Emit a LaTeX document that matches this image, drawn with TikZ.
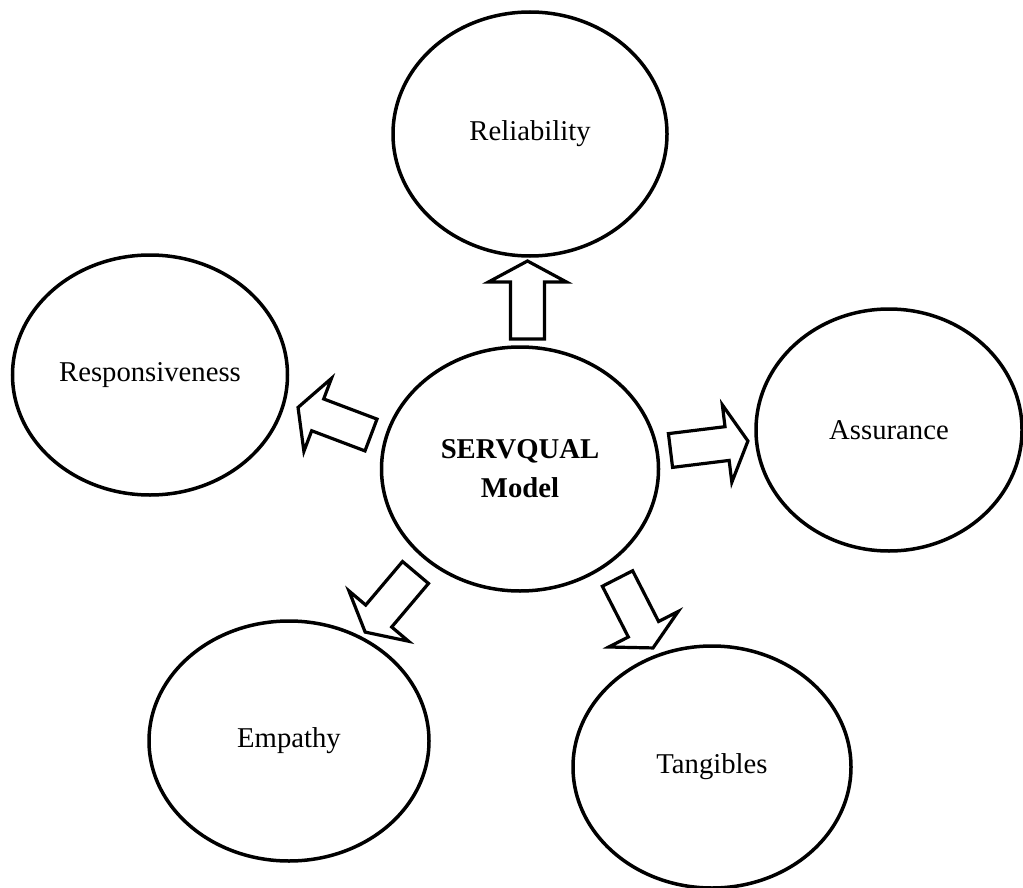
\documentclass[tikz,border=0pt]{standalone}
\usepackage{fontspec}
\setmainfont{Liberation Serif}
\usepackage{tikz}
\usetikzlibrary{shapes.geometric}

\tikzset{
    factor/.style={ellipse, draw, line width=3.5pt, inner sep=0pt, fill=white,
        font=\fontsize{28.7}{39}\selectfont},
    arrowline/.style={draw, line width=3.2pt, line join=miter, fill=white}
}

% hollow block arrow: tail point, direction
\newcommand{\blockarrow}[2]{%
    \draw[arrowline, shift={(#1)}, rotate=#2]
        (0,-17) -- (57,-17) -- (57,-39) -- (78,0) -- (57,39) -- (57,17) -- (0,17) -- cycle;
}

\begin{document}
\begin{tikzpicture}[x=1pt, y=-1pt]
    \useasboundingbox (0,0) rectangle (1023,888); % Page size of the figure

    % Model in the middle
    \node[factor, minimum width=277pt, minimum height=244pt, align=center,
        font=\fontsize{28.7}{39}\selectfont\bfseries] (model) at (520,469) {SERVQUAL\\Model};

    % The five dimensions round it
    \node[factor, minimum width=274pt, minimum height=244pt] (rel) at (530,134) {Reliability};
    \node[factor, minimum width=275pt, minimum height=240pt] (resp) at (150,375) {Responsiveness};
    \node[factor, minimum width=266pt, minimum height=242pt] (assur) at (889,430) {Assurance};
    \node[factor, minimum width=280pt, minimum height=240pt] (emp) at (289,741) {Empathy};
    \node[factor, minimum width=278pt, minimum height=242pt] (tang) at (712,767) {Tangibles};

    % Tails of the arrows next to the model
    \coordinate (toRel) at (527.5,339);
    \coordinate (toResp) at (371,435);
    \coordinate (toAssur) at (670.5,450.5);
    \coordinate (toEmp) at (415.5,572.5);
    \coordinate (toTang) at (617.5,578.5);

    \foreach \c/\a in {toRel/90, toResp/159.3, toAssur/7, toEmp/229.8, toTang/-62.9}{
        \blockarrow{\c}{\a} % Arrow pointing out to one dimension
    }
\end{tikzpicture}
\end{document}
